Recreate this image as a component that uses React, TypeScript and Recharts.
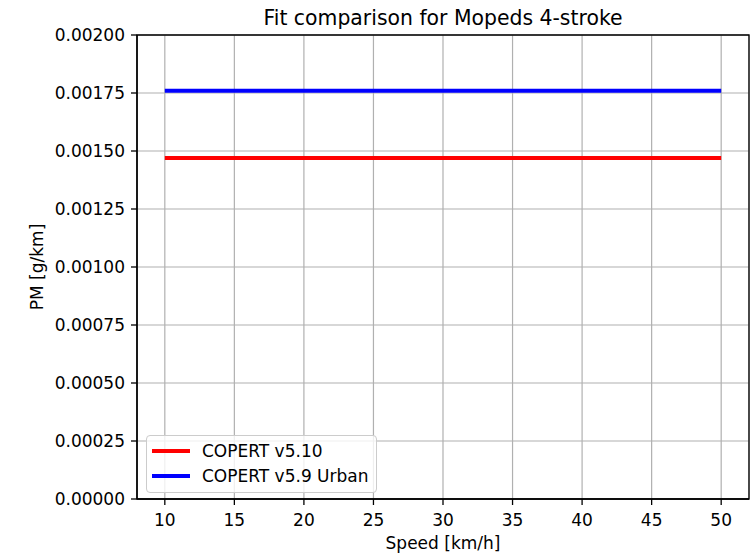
import React from 'react';
import {
  LineChart,
  Line,
  XAxis,
  YAxis,
  CartesianGrid,
  Legend,
  ReferenceArea,
  Customized,
} from 'recharts';

const speeds = [10, 15, 20, 25, 30, 35, 40, 45, 50];
const copertV510 = [0.00147, 0.00147, 0.00147, 0.00147, 0.00147, 0.00147, 0.00147, 0.00147, 0.00147];
const copertV59Urban = [0.00176, 0.00176, 0.00176, 0.00176, 0.00176, 0.00176, 0.00176, 0.00176, 0.00176];
const xTicks = [10, 15, 20, 25, 30, 35, 40, 45, 50];
const yTicks = [0, 0.00025, 0.0005, 0.00075, 0.001, 0.00125, 0.0015, 0.00175, 0.002];
const xDomain = [8, 52];
const yDomain = [0, 0.002];
const seriesNames = ['COPERT v5.10', 'COPERT v5.9 Urban'];
const seriesKeys = ['v510', 'v59'];
const seriesColors = ['#ff0000', '#0000ff'];
const titleText = 'Fit comparison for Mopeds 4-stroke';
const xLabel = 'Speed [km/h]';
const yLabel = 'PM [g/km]';

const data = speeds.map((s, i) => ({ speed: s, v510: copertV510[i], v59: copertV59Urban[i] }));

const FONT = '"DejaVu Sans", sans-serif';

const Texts = () => (
  <g style={{ fontFamily: FONT }}>
    <text x={443} y={25} textAnchor="middle" fontSize={20.4} fill="#000">
      {titleText}
    </text>
    <text x={443} y={549} textAnchor="middle" fontSize={17} fill="#000">
      {xLabel}
    </text>
    <text
      x={43}
      y={267}
      textAnchor="middle"
      fontSize={17}
      fill="#000"
      transform="rotate(-90 43 267)"
    >
      {yLabel}
    </text>
  </g>
);

const LegendBox = () => (
  <div
    style={{
      border: '1px solid #cccccc',
      borderRadius: 4,
      background: 'rgba(255,255,255,0.8)',
      padding: '2px 7px 4px 5px',
      fontFamily: FONT,
      fontSize: 17,
      color: '#000',
      boxSizing: 'border-box',
    }}
  >
    {seriesNames.map((n, i) => (
      <div key={n} style={{ display: 'flex', alignItems: 'center', height: 25, whiteSpace: 'nowrap' }}>
        <div style={{ width: 38, height: 4, background: seriesColors[i], marginRight: 12 }} />
        <span>{n}</span>
      </div>
    ))}
  </div>
);

export default function App() {
  return (
    <div style={{ position: 'absolute', left: 0, top: 0, width: 754, height: 556, background: '#fff' }}>
      <LineChart
        width={754}
        height={556}
        data={data}
        margin={{ top: 35, right: 5, left: 0, bottom: 0 }}
        style={{ fontFamily: FONT }}
      >
        <CartesianGrid stroke="#b0b0b0" strokeWidth={1.2} />
        <XAxis
          dataKey="speed"
          type="number"
          domain={xDomain}
          ticks={xTicks}
          height={57}
          tickSize={6}
          tickMargin={9}
          tick={{ fontSize: 17, fill: '#000' }}
          axisLine={{ stroke: '#000', strokeWidth: 1.3 }}
          tickLine={{ stroke: '#000', strokeWidth: 1.3 }}
          allowDataOverflow
        />
        <YAxis
          type="number"
          domain={yDomain}
          ticks={yTicks}
          width={137}
          tickSize={6}
          tickMargin={6}
          tickFormatter={(v: number) => v.toFixed(5)}
          tick={{ fontSize: 17, fill: '#000' }}
          axisLine={{ stroke: '#000', strokeWidth: 1.3 }}
          tickLine={{ stroke: '#000', strokeWidth: 1.3 }}
          allowDataOverflow
        />
        <ReferenceArea
          x1={xDomain[0]}
          x2={xDomain[1]}
          y1={yDomain[0]}
          y2={yDomain[1]}
          fill="none"
          fillOpacity={0}
          stroke="#000"
          strokeWidth={1.3}
          strokeOpacity={1}
        />
        {seriesKeys.map((k, i) => (
          <Line
            key={k}
            type="linear"
            dataKey={k}
            name={seriesNames[i]}
            stroke={seriesColors[i]}
            strokeWidth={4}
            dot={false}
            activeDot={false}
            isAnimationActive={false}
          />
        ))}
        <Legend
          layout="vertical"
          align="center"
          verticalAlign="middle"
          content={<LegendBox />}
          wrapperStyle={{ left: 146, top: 435, width: 'auto', height: 'auto' }}
        />
        <Customized component={Texts} />
      </LineChart>
    </div>
  );
}
